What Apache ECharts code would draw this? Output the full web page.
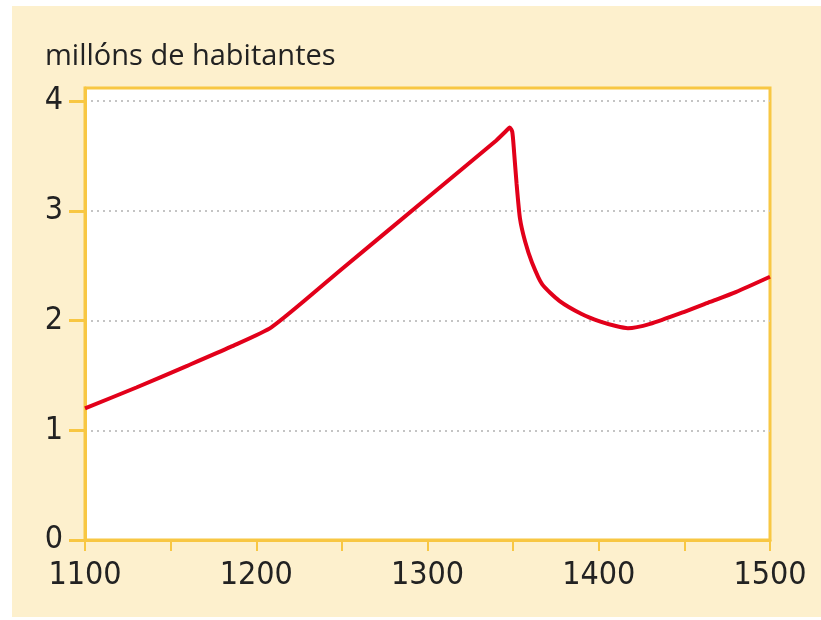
<!DOCTYPE html>
<html>
<head>
<meta charset="utf-8">
<script src="https://cdn.jsdelivr.net/npm/echarts@6/dist/echarts.min.js"></script>
<style>
  body { margin: 0; background: #ffffff; }
  #wrap { position: relative; width: 821px; height: 620px; }
  #bg { position: absolute; left: 12px; top: 6px; right: 0; bottom: 3px; background: #fdf0cd; }
  #chart { position: absolute; left: 0; top: 0; width: 821px; height: 620px; }
</style>
</head>
<body>
<div id="wrap">
  <div id="bg"></div>
  <div id="chart"></div>
</div>
<script>
  const years = [1100, 1130, 1160, 1185, 1209, 1250, 1300, 1340, 1346, 1348, 1349.5, 1350.5, 1352, 1354, 1357, 1361, 1367, 1377, 1390, 1401, 1410, 1417, 1430, 1450, 1465, 1480, 1500];
  const population = [1.20, 1.39, 1.59, 1.76, 1.94, 2.47, 3.12, 3.64, 3.73, 3.76, 3.72, 3.55, 3.25, 2.93, 2.72, 2.53, 2.33, 2.18, 2.06, 1.99, 1.95, 1.93, 1.97, 2.08, 2.17, 2.26, 2.40];
  const yTicks = [0, 1, 2, 3, 4];
  const yLabel = 'millóns de habitantes';

  let chartDom = document.getElementById('chart');
  let myChart = echarts.init(chartDom);
  let option;

  const axisColor = '#f8c743';
  const textColor = '#222222';
  const font = '"DejaVu Sans Condensed", "Open Sans", sans-serif';

  option = {
    animation: false,
    title: {
      text: yLabel,
      left: 40,
      top: 37,
      textStyle: {
        color: textColor,
        fontFamily: 'Open Sans',
        fontWeight: 'normal',
        fontSize: 29,
      },
    },
    grid: {
      left: 85,
      right: 51,
      top: 88,
      bottom: 80,
      show: true,
      backgroundColor: '#ffffff',
      borderColor: axisColor,
      borderWidth: 3,
    },
    xAxis: {
      type: 'value',
      min: 1100,
      max: 1500,
      interval: 50,
      axisLine: { lineStyle: { color: axisColor, width: 3 } },
      axisTick: { length: 11, lineStyle: { color: axisColor, width: 2 } },
      splitLine: { show: false },
      axisLabel: {
        margin: 20,
        color: textColor,
        fontFamily: font,
        fontSize: 32,
        formatter: (v) => (v % 100 === 0 ? String(v) : ''),
      },
    },
    yAxis: {
      type: 'value',
      min: 0,
      max: 4.12,
      interval: 1,
      axisLine: { show: true, lineStyle: { color: axisColor, width: 3 } },
      axisTick: {
        show: true,
        length: 16,
        customValues: yTicks,
        lineStyle: { color: axisColor, width: 3 },
      },
      splitLine: {
        show: true,
        lineStyle: { color: '#c4c4c4', width: 2, type: [2, 4] },
      },
      axisLabel: {
        margin: 22,
        color: textColor,
        fontFamily: font,
        fontSize: 32,
        customValues: yTicks,
      },
    },
    series: [
      {
        type: 'line',
        data: years.map((y, i) => [y, population[i]]),
        showSymbol: false,
        smooth: 0.2,
        lineStyle: { color: '#e2001a', width: 4 },
      },
    ],
  };

  option && myChart.setOption(option);
</script>
</body>
</html>
